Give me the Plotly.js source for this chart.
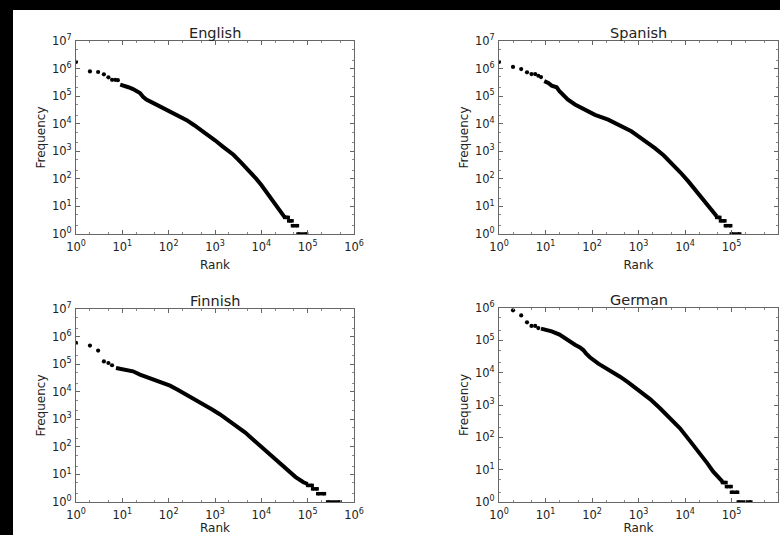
<!DOCTYPE html>
<html>
<head>
<meta charset="utf-8">
<script src="https://cdn.plot.ly/plotly-3.0.1.min.js"></script>
<style>
  html, body { margin: 0; padding: 0; background: #000; width: 780px; height: 535px; overflow: hidden; }
  #chart { position: absolute; left: 13px; top: 10px; width: 767px; height: 525px; background: #fff; }
</style>
</head>
<body>
<div id="chart"></div>
<script>
// ---- Data (rank, frequency) ----
const languages = ["English", "Spanish", "Finnish", "German"];

// English
const engHeadRank = [1, 2, 3, 4, 5, 6, 7, 8];
const engHeadFreq = [1.74e6, 7.9e5, 7.5e5, 6.2e5, 4.8e5, 3.9e5, 3.9e5, 3.8e5];
const engBodyRank = [9, 11, 13.5, 17, 20, 24, 28, 33, 47, 70, 107, 160, 245, 350, 500, 700, 1000, 1500, 2500, 3500, 5000, 7800, 10000, 14000, 18000, 25000, 32000];
const engBodyFreq = [2.6e5, 2.4e5, 2.1e5, 1.8e5, 1.55e5, 1.3e5, 9.5e4, 7.5e4, 5.6e4, 4.0e4, 2.8e4, 2.0e4, 1.35e4, 9.0e3, 6.0e3, 3.9e3, 2.5e3, 1.45e3, 750, 420, 230, 100, 60, 27, 14, 6.5, 4];
const engTailRank = [32000, 38000, null, 39000, 46000, null, 47000, 60000, null, 62000, 95000];
const engTailFreq = [4, 4, null, 3, 3, null, 2, 2, null, 1, 1];

// Spanish
const spaHeadRank = [1, 2, 3, 4, 5, 6, 7, 8];
const spaHeadFreq = [1.74e6, 1.15e6, 9.6e5, 7.3e5, 6.3e5, 6.3e5, 5.5e5, 4.9e5];
const spaBodyRank = [9.4, 11.5, 13.6, 17.4, 20, 26, 30, 43, 71, 116, 223, 435, 700, 1000, 1500, 2250, 3500, 5150, 8000, 11800, 18000, 27000, 48000];
const spaBodyFreq = [3.5e5, 3.0e5, 2.4e5, 2.1e5, 1.5e5, 1.0e5, 7.6e4, 5.0e4, 3.2e4, 2.1e4, 1.4e4, 8.1e3, 5.3e3, 3.5e3, 2.2e3, 1.3e3, 700, 380, 170, 81, 33, 15, 4.4];
const spaTailRank = [48000, 56000, null, 58000, 72000, null, 74000, 96000, null, 99000, 150000];
const spaTailFreq = [4, 4, null, 3, 3, null, 2, 2, null, 1, 1];

// Finnish
const finHeadRank = [1, 2, 3, 4, 5, 6];
const finHeadFreq = [5.9e5, 4.7e5, 3.1e5, 1.26e5, 1.1e5, 9.1e4];
const finBodyRank = [7.3, 10.5, 17, 24, 33, 47, 70, 107, 160, 245, 370, 560, 850, 1290, 2000, 2940, 4500, 6700, 10000, 15400, 23000, 35000, 55000, 81000, 100000];
const finBodyFreq = [7.2e4, 6.6e4, 5.5e4, 4.2e4, 3.5e4, 2.9e4, 2.2e4, 1.66e4, 1.15e4, 7.8e3, 5.2e3, 3.4e3, 2.3e3, 1.5e3, 900, 560, 330, 182, 100, 52, 28, 15, 8, 5.2, 4.5];
const finTailRank = [100000, 125000, null, 128000, 160000, null, 165000, 230000, null, 270000, 500000];
const finTailFreq = [4, 4, null, 3, 3, null, 2, 2, null, 1, 1];

// German
const gerHeadRank = [2, 3, 4, 5, 6, 7];
const gerHeadFreq = [8.5e5, 5.9e5, 3.6e5, 2.8e5, 2.8e5, 2.4e5];
const gerBodyRank = [8, 10, 13.6, 20, 28.5, 43, 55, 65, 75, 90, 137, 264, 400, 600, 1080, 1800, 2900, 4500, 7800, 13000, 21000, 30000, 40500, 64000];
const gerBodyFreq = [2.3e5, 2.1e5, 1.9e5, 1.5e5, 1.05e5, 7.3e4, 6.0e4, 5.0e4, 3.9e4, 3.0e4, 1.9e4, 1.1e4, 7.5e3, 5.0e3, 2.6e3, 1.5e3, 790, 420, 190, 75, 32, 16, 8.7, 4.3];
const gerTailRank = [64000, 76000, null, 78000, 98000, null, 100000, 135000, null, 140000, 260000];
const gerTailFreq = [4, 4, null, 3, 3, null, 2, 2, null, 1, 1];

// Tick labels
const xTickVals = [1, 10, 100, 1000, 10000, 100000, 1000000];
const xTickText = ["10<sup>0</sup>", "10<sup>1</sup>", "10<sup>2</sup>", "10<sup>3</sup>", "10<sup>4</sup>", "10<sup>5</sup>", "10<sup>6</sup>"];
const yTickVals = [1, 10, 100, 1000, 10000, 100000, 1000000, 10000000];
const yTickText = ["10<sup>0</sup>", "10<sup>1</sup>", "10<sup>2</sup>", "10<sup>3</sup>", "10<sup>4</sup>", "10<sup>5</sup>", "10<sup>6</sup>", "10<sup>7</sup>"];
const xAxisTitle = "Rank";
const yAxisTitle = "Frequency";

// ---- Build ----
const sets = [
  {head: [engHeadRank, engHeadFreq], body: [engBodyRank, engBodyFreq], tail: [engTailRank, engTailFreq]},
  {head: [spaHeadRank, spaHeadFreq], body: [spaBodyRank, spaBodyFreq], tail: [spaTailRank, spaTailFreq]},
  {head: [finHeadRank, finHeadFreq], body: [finBodyRank, finBodyFreq], tail: [finTailRank, finTailFreq]},
  {head: [gerHeadRank, gerHeadFreq], body: [gerBodyRank, gerBodyFreq], tail: [gerTailRank, gerTailFreq]}
];

const W = 767, H = 525;
const dom = [
  {x: [63 / W, 341 / W], y: [1 - 224 / H, 1 - 31 / H], ymax: 7},
  {x: [486 / W, 765 / W], y: [1 - 224 / H, 1 - 31 / H], ymax: 7},
  {x: [63 / W, 341 / W], y: [1 - 492 / H, 1 - 299 / H], ymax: 7},
  {x: [486 / W, 765 / W], y: [1 - 492 / H, 1 - 298 / H], ymax: 6}
];

const font = "DejaVu Sans, Liberation Sans, sans-serif";
const traces = [];
const layout = {
  width: W, height: H,
  margin: {l: 0, r: 0, t: 0, b: 0},
  paper_bgcolor: "#ffffff", plot_bgcolor: "#ffffff",
  showlegend: false,
  font: {family: font, color: "#222", size: 12},
  annotations: []
};

sets.forEach((s, i) => {
  const n = i === 0 ? "" : String(i + 1);
  const xa = "x" + n, ya = "y" + n;
  traces.push({x: s.body[0], y: s.body[1], xaxis: xa, yaxis: ya, type: "scatter", mode: "lines",
    line: {color: "#000", width: 4}, hoverinfo: "skip"});
  traces.push({x: s.tail[0], y: s.tail[1], xaxis: xa, yaxis: ya, type: "scatter", mode: "lines+markers",
    line: {color: "#000", width: 3.5}, marker: {symbol: "square", size: 3.5, color: "#000"}, connectgaps: false, hoverinfo: "skip"});
  traces.push({x: s.head[0], y: s.head[1], xaxis: xa, yaxis: ya, type: "scatter", mode: "markers",
    marker: {symbol: "circle", size: 4.2, color: "#000"}, hoverinfo: "skip"});

  const yVals = yTickVals.slice(0, dom[i].ymax + 1);
  const yText = yTickText.slice(0, dom[i].ymax + 1);
  const common = {
    type: "log", showgrid: false, zeroline: false,
    showline: true, linecolor: "#666", linewidth: 1, mirror: "allticks",
    ticks: "inside", ticklen: 4, tickcolor: "#666", tickwidth: 1,
    minor: {ticks: "inside", ticklen: 2, tickcolor: "#888", showgrid: false},
    tickfont: {family: font, size: 11.5, color: "#222"},
    fixedrange: true
  };
  layout["xaxis" + n] = Object.assign({}, common, {
    domain: dom[i].x, anchor: ya, range: [0, 6],
    tickmode: "array", tickvals: xTickVals, ticktext: xTickText,
    ticklabelstandoff: 2,
    title: {text: xAxisTitle, font: {family: font, size: 12, color: "#222"}, standoff: 7}
  });
  layout["yaxis" + n] = Object.assign({}, common, {
    domain: dom[i].y, anchor: xa, range: [0, dom[i].ymax],
    tickmode: "array", tickvals: yVals, ticktext: yText,
    ticklabelstandoff: 1,
    title: {text: yAxisTitle, font: {family: font, size: 12, color: "#222"}, standoff: 3}
  });
  layout.annotations.push({
    text: languages[i], xref: "paper", yref: "paper",
    x: (dom[i].x[0] + dom[i].x[1]) / 2, y: dom[i].y[1],
    xanchor: "center", yanchor: "bottom", showarrow: false, yshift: -2,
    font: {family: font, size: 14.5, color: "#222"}
  });
});

Plotly.newPlot("chart", traces, layout, {displayModeBar: false, staticPlot: true});
</script>
</body>
</html>
